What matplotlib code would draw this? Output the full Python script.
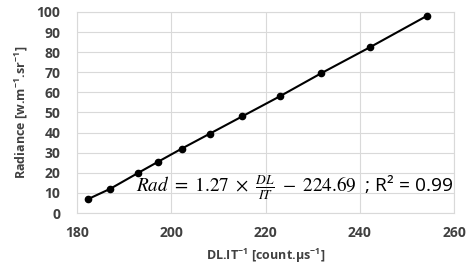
import matplotlib
matplotlib.use("Agg")
import matplotlib.pyplot as plt

x_vals = [182.4, 187.0, 193.0, 197.2, 202.2, 208.2, 215.0, 223.0, 231.8, 242.2, 254.2]
y_vals = [7.0, 12.0, 20.0, 25.5, 32.0, 39.5, 48.0, 58.0, 69.5, 82.5, 98.0]
x_ticks = [180, 200, 220, 240, 260]
y_ticks = [0, 10, 20, 30, 40, 50, 60, 70, 80, 90, 100]

plt.rcParams['font.family'] = ['Open Sans', 'DejaVu Sans']
plt.rcParams['mathtext.fontset'] = 'stix'

fig = plt.figure(figsize=(4.73, 2.71), dpi=100)
ax = fig.add_axes([0.163, 0.214, 0.797, 0.742])
ax.plot(x_vals, y_vals, color='black', lw=1.5, marker='o', ms=4.5, zorder=3)
ax.set_xlim(180, 260)
ax.set_ylim(0, 100)
ax.set_xticks(x_ticks)
ax.set_yticks(y_ticks)
ax.grid(True, color='#d9d9d9', lw=0.8)
ax.set_axisbelow(True)
for s in ax.spines.values():
    s.set_color('#d9d9d9')
    s.set_linewidth(0.8)
ax.tick_params(length=0, labelsize=10, labelcolor='#404040')
ax.tick_params(axis='y', pad=12)
ax.tick_params(axis='x', pad=9)
for lab in ax.get_xticklabels() + ax.get_yticklabels():
    lab.set_fontweight('bold')
ax.set_xlabel(r'DL.IT$^{\mathregular{-1}}$ [count.µs$^{\mathregular{-1}}$]', fontsize=9,
              fontweight='bold', color='#404040', labelpad=5)
ax.set_ylabel(r'Radiance [w.m$^{\mathregular{-1}}$.sr$^{\mathregular{-1}}$]', fontsize=9,
              fontweight='bold', color='#404040', labelpad=5)

fig.text(453/473, 1-193/271, r'$Rad\ =\ 1.27\ \times\ \frac{DL}{IT}\ -\ 224.69\ $ ; R² = 0.99',
         ha='right', va='baseline', fontsize=13.8, color='black')

fig.savefig('out.png', dpi=100)
